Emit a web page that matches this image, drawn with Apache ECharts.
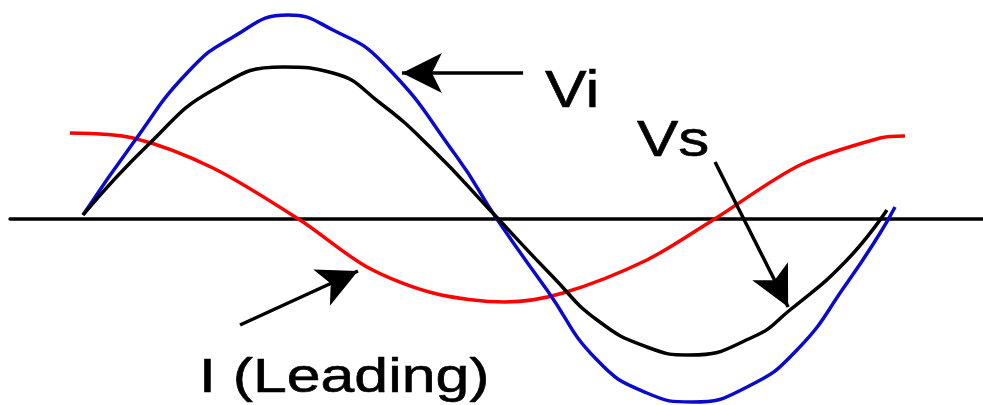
<!DOCTYPE html>
<html>
<head>
<meta charset="utf-8">
<script src="https://cdn.jsdelivr.net/npm/echarts@6/dist/echarts.min.js"></script>
<style>
  html, body { margin: 0; padding: 0; background: #fff; }
  #chart { width: 983px; height: 405px; }
</style>
</head>
<body>
<div id="chart"></div>
<script>
// phase in degrees, amplitude in arbitrary units
var viPoints = [
  [0, 0.02], [22.2, 0.38], [46.1, 0.73], [66.5, 0.91], [90.9, 1.02], [110.8, 0.945],
  [133, 0.78], [165.8, 0.31], [183.5, 0], [205.7, -0.355], [227.9, -0.705],
  [250, -0.87], [270.4, -0.915], [294.4, -0.84], [316.5, -0.655], [338.7, -0.32],
  [353.4, -0.07], [360, 0.06]
];
var vsPoints = [
  [0, 0.02], [29.7, 0.38], [57.6, 0.645], [88.7, 0.76], [110.8, 0.73], [131.7, 0.58],
  [155.2, 0.345], [180.4, 0.045], [208.4, -0.29], [227.9, -0.505],
  [250, -0.64], [269.1, -0.68], [297, -0.59], [313.4, -0.455], [338.7, -0.205],
  [356.4, 0.045]
];
var iPoints = [
  [-5.8, 0.43], [22.2, 0.405], [57.6, 0.255], [96.2, -0.005], [125.9, -0.24],
  [155.2, -0.37], [187.1, -0.415], [212.8, -0.37], [250, -0.205], [279.3, -0.005],
  [317.9, 0.27], [353.4, 0.405], [364.4, 0.415]
];

// annotation arrows: [from, to]
var viArrow = [[195.1, 0.73], [141.4, 0.73]];
var vsArrow = [[280.2, 0.285], [312.6, -0.44]];
var iArrow = [[69.6, -0.53], [121.9, -0.26]];

var chart = echarts.init(document.getElementById('chart'));

function arrowLine(pts) {
  return [{ coord: pts[0] }, { coord: pts[1] }];
}

var option = {
  backgroundColor: '#fff',
  animation: false,
  grid: { left: 10, right: 0, top: 0, bottom: 0 },
  xAxis: {
    type: 'value',
    min: -32.37,
    max: 399,
    axisLine: { show: true, onZero: true, lineStyle: { color: '#000', width: 3.5 } },
    axisTick: { show: false },
    axisLabel: { show: false },
    splitLine: { show: false }
  },
  yAxis: {
    type: 'value',
    min: -0.93,
    max: 1.095,
    show: false,
    splitLine: { show: false }
  },
  series: [
    {
      name: 'I',
      type: 'line',
      data: iPoints,
      smooth: 0.3,
      showSymbol: false,
      lineStyle: { color: '#ff0000', width: 3.5 },
      z: 3
    },
    {
      name: 'Vi',
      type: 'line',
      data: viPoints,
      smooth: 0.5,
      showSymbol: false,
      lineStyle: { color: '#0a0acc', width: 3.5 },
      z: 4
    },
    {
      name: 'Vs',
      type: 'line',
      data: vsPoints,
      smooth: 0.5,
      showSymbol: false,
      lineStyle: { color: '#000', width: 3.5 },
      z: 5,
      markLine: {
        silent: true,
        symbol: ['none', 'arrow'],
        symbolSize: [30, 40],
        label: { show: false },
        lineStyle: { color: '#000', width: 3.5, type: 'solid' },
        data: [arrowLine(viArrow), arrowLine(vsArrow), arrowLine(iArrow)]
      }
    }
  ],
  graphic: [
    {
      type: 'text', x: 545, y: 93, scaleX: 1.2,
      style: { text: 'Vi', font: '52px "Liberation Sans", Arial, sans-serif', fill: '#000', textVerticalAlign: 'middle', stroke: '#000', lineWidth: 0.6 }
    },
    {
      type: 'text', x: 637, y: 142, scaleX: 1.24,
      style: { text: 'Vs', font: '50px "Liberation Sans", Arial, sans-serif', fill: '#000', textVerticalAlign: 'middle', stroke: '#000', lineWidth: 0.6 }
    },
    {
      type: 'text', x: 199, y: 378, scaleX: 1.24,
      style: { text: 'I (Leading)', font: '49px "Liberation Sans", Arial, sans-serif', fill: '#000', textVerticalAlign: 'middle', stroke: '#000', lineWidth: 0.6 }
    }
  ]
};
chart.setOption(option);
</script>
</body>
</html>
